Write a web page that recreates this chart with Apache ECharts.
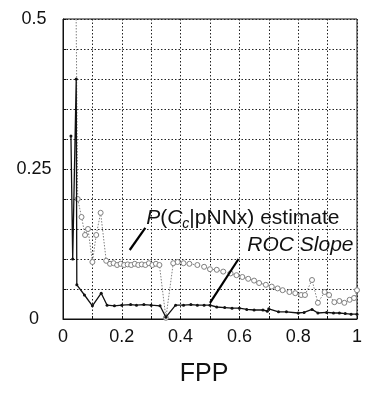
<!DOCTYPE html>
<html>
<head>
<meta charset="utf-8">
<script src="https://cdn.jsdelivr.net/npm/echarts@6/dist/echarts.min.js"></script>
<style>
  html, body { margin: 0; padding: 0; background: #fff; }
  #chart { width: 365px; height: 394px; }
</style>
</head>
<body>
<div id="chart"></div>
<script>
// ROC slope (solid black with dot markers)
const rocX = [0.027, 0.033, 0.045, 0.047, 0.073, 0.1, 0.13, 0.15, 0.175, 0.2, 0.23, 0.25, 0.275, 0.3, 0.33,
  0.35, 0.383, 0.41, 0.435, 0.457, 0.48, 0.5, 0.523, 0.55, 0.575, 0.6, 0.625, 0.65, 0.68, 0.695, 0.7,
  0.733, 0.76, 0.8, 0.82, 0.847, 0.867, 0.897, 0.92, 0.94, 0.96, 0.98, 1.0];
const rocY = [0.305, 0.1, 0.4, 0.057, 0.04, 0.022, 0.043, 0.023, 0.022, 0.023, 0.024, 0.023, 0.024, 0.023, 0.022,
  0.003, 0.023, 0.023, 0.024, 0.023, 0.023, 0.023, 0.02, 0.019, 0.018, 0.018, 0.016, 0.015, 0.015, 0.013, 0.017,
  0.012, 0.012, 0.01, 0.011, 0.016, 0.01, 0.011, 0.01, 0.01, 0.009, 0.008, 0.008];

// P(Cc|pNNx) estimate (grey dotted with open circles)
const estX = [0.043, 0.05, 0.063, 0.075, 0.085, 0.1, 0.113, 0.128, 0.147, 0.16, 0.172, 0.184, 0.196, 0.208,
  0.22, 0.232, 0.244, 0.256, 0.268, 0.28, 0.292, 0.304, 0.316, 0.328, 0.35, 0.375, 0.39, 0.41, 0.43, 0.457,
  0.48, 0.5, 0.523, 0.545, 0.57, 0.59, 0.61, 0.63, 0.65, 0.667, 0.69, 0.71, 0.73, 0.747, 0.77, 0.79, 0.81,
  0.823, 0.847, 0.867, 0.89, 0.905, 0.923, 0.94, 0.957, 0.975, 0.99, 1.0];
const estY = [0.6, 0.2, 0.17, 0.14, 0.15, 0.095, 0.14, 0.177, 0.097, 0.092, 0.093, 0.09, 0.092, 0.09,
  0.091, 0.09, 0.092, 0.09, 0.091, 0.09, 0.093, 0.09, 0.092, 0.09, 0.002, 0.093, 0.095, 0.093, 0.092, 0.09,
  0.087, 0.083, 0.082, 0.079, 0.076, 0.073, 0.07, 0.067, 0.064, 0.06, 0.057, 0.054, 0.051, 0.048, 0.045, 0.043, 0.04,
  0.04, 0.065, 0.027, 0.045, 0.04, 0.028, 0.03, 0.027, 0.032, 0.035, 0.048];

const xTickLabels = ['0', '0.2', '0.4', '0.6', '0.8', '1'];
const yTickLabels = ['0', '0.25', '0.5'];
const xAxisTitle = 'FPP';

// callout anchors, in data units
const estLeader = [[0.227, 0.115], [0.28, 0.152]];
const rocLeader = [[0.5, 0.027], [0.597, 0.1]];
const estLabelAt = [0.283, 0.1675];
const rocLabelAt = [0.627, 0.123];

const FONT = '"Liberation Sans", Arial, Helvetica, sans-serif';

function pick(labels) {
  return function (v) {
    for (const s of labels) if (Math.abs(v - parseFloat(s)) < 1e-9) return s;
    return '';
  };
}

const chart = echarts.init(document.getElementById('chart'), null, { renderer: 'canvas' });

chart.setOption({
  animation: false,
  backgroundColor: '#fff',
  grid: { left: 63, top: 19, width: 300, height: 300, show: true, borderColor: '#111', borderWidth: 1, backgroundColor: 'transparent' },
  xAxis: {
    type: 'value', min: 0, max: 1, interval: 0.1,
    name: xAxisTitle, nameLocation: 'middle', nameGap: 43,
    nameTextStyle: { fontFamily: FONT, fontSize: 25, color: '#111', padding: [0, 12, 0, 0] },
    axisLine: { show: true, lineStyle: { color: '#111', width: 1 } },
    axisTick: { show: true, inside: true, length: 3, lineStyle: { color: '#111' } },
    axisLabel: { formatter: pick(xTickLabels), fontFamily: FONT, fontSize: 18, color: '#111', margin: 9 },
    splitLine: { show: true, lineStyle: { color: '#222', width: 1, type: [1.5, 2] } }
  },
  yAxis: {
    type: 'value', min: 0, max: 0.5, interval: 0.05,
    axisLine: { show: true, lineStyle: { color: '#111', width: 1 } },
    axisTick: { show: true, inside: true, length: 3, lineStyle: { color: '#111' } },
    axisLabel: { formatter: pick(yTickLabels), fontFamily: FONT, fontSize: 18, color: '#111', align: 'center', margin: 29 },
    splitLine: { show: true, lineStyle: { color: '#222', width: 1, type: [1.5, 2] } }
  },
  series: [
    {
      name: 'estimate', type: 'line', clip: true,
      data: estX.map((x, i) => [x, estY[i]]),
      symbol: 'circle', symbolSize: 5,
      itemStyle: { color: '#fff', borderColor: '#808080', borderWidth: 1 },
      lineStyle: { color: '#808080', width: 1, type: [1.5, 1.5] },
      z: 3
    },
    {
      name: 'ROC Slope', type: 'line', clip: true,
      data: rocX.map((x, i) => [x, rocY[i]]),
      symbol: 'circle', symbolSize: 3,
      itemStyle: { color: '#111' },
      lineStyle: { color: '#111', width: 1.3 },
      z: 4,
      markLine: {
        silent: true, symbol: 'none', animation: false,
        label: { show: false },
        lineStyle: { color: '#000', width: 2.2, type: 'solid' },
        data: [
          [{ coord: estLeader[0] }, { coord: estLeader[1] }],
          [{ coord: rocLeader[0] }, { coord: rocLeader[1] }]
        ]
      }
    }
  ]
});

// series captions positioned through the axis scales
const estPos = chart.convertToPixel({ gridIndex: 0 }, estLabelAt);
const rocPos = chart.convertToPixel({ gridIndex: 0 }, rocLabelAt);
chart.setOption({
  graphic: [
    {
      type: 'text', x: estPos[0], y: estPos[1], z: 10,
      style: {
        text: '{i|P}{n|(}{i|C}{s|c}{n||pNNx) estimate}',
        verticalAlign: 'middle', align: 'left',
        rich: {
          i: { fontFamily: FONT, fontSize: 21, fontStyle: 'italic', fill: '#111', lineHeight: 25, verticalAlign: 'middle' },
          n: { fontFamily: FONT, fontSize: 21, fill: '#111', lineHeight: 25, verticalAlign: 'middle' },
          s: { fontFamily: FONT, fontSize: 14, fontStyle: 'italic', fill: '#111', lineHeight: 14, verticalAlign: 'bottom' }
        }
      }
    },
    {
      type: 'text', x: rocPos[0], y: rocPos[1], z: 10,
      style: {
        text: 'ROC Slope', fontFamily: FONT, fontSize: 21, fontStyle: 'italic', fill: '#111',
        verticalAlign: 'middle', align: 'left'
      }
    }
  ]
});
</script>
</body>
</html>
